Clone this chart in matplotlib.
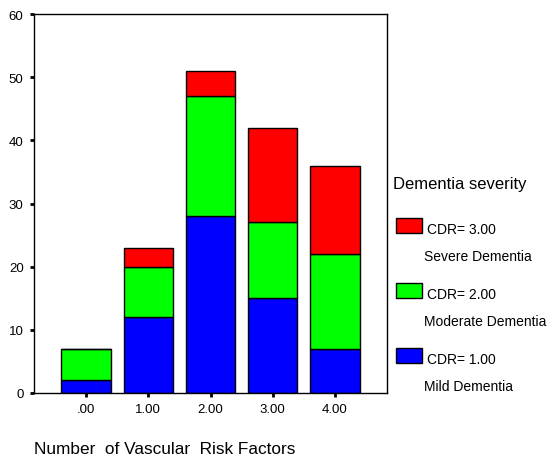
import numpy as np
import matplotlib.pyplot as plt
from matplotlib.patches import Rectangle

plt.rcParams['font.family'] = ['Liberation Sans', 'DejaVu Sans']

categories = ['.00', '1.00', '2.00', '3.00', '4.00']
mild = [2, 12, 28, 15, 7]
moderate = [5, 8, 19, 12, 15]
severe = [0, 3, 4, 15, 14]

legend_title = 'Dementia severity'
legend_codes = ['CDR= 3.00', 'CDR= 2.00', 'CDR= 1.00']
legend_names = ['Severe Dementia', 'Moderate Dementia', 'Mild Dementia']
legend_colors = ['#ff0000', '#00ff00', '#0000ff']

W, H = 547, 456
fig = plt.figure(figsize=(W / 100, H / 100), dpi=100)
ax = fig.add_axes([34 / W, (H - 394) / H, (387 - 34) / W, (394 - 15) / H])

x = np.arange(len(categories))
bottom = np.zeros(len(x))
for vals, color in [(mild, '#0000ff'), (moderate, '#00ff00'), (severe, '#ff0000')]:
    ax.bar(x, vals, 0.79, bottom=bottom, color=color, edgecolor='black', linewidth=1)
    bottom += np.array(vals)

ax.set_xlim(-0.835, 4.835)
ax.set_ylim(0, 60)
ax.set_yticks(range(0, 61, 10))
ax.set_xticks(x, categories)
ax.tick_params(direction='out', length=3, width=2, labelsize=9.5, pad=4.5)
for s in ax.spines.values():
    s.set_linewidth(1)

fig.text(34 / W, 1 - 454 / H, 'Number  of Vascular  Risk Factors', fontsize=12.4, va='baseline')

# legend drawn by hand (SPSS style, two-line entries)
fig.text(393 / W, 1 - 185 / H, legend_title, fontsize=12, va='center')
for i, (code, name, col) in enumerate(zip(legend_codes, legend_names, legend_colors)):
    y0 = 219 + 65 * i
    fig.add_artist(Rectangle((396 / W, 1 - (y0 + 15) / H), 26 / W, 15 / H,
                             transform=fig.transFigure, facecolor=col,
                             edgecolor='black', linewidth=1))
    fig.text(427 / W, 1 - (y0 + 11) / H, code, fontsize=10, va='center')
    fig.text(424 / W, 1 - (y0 + 38) / H, name, fontsize=10, va='center')

fig.savefig('out.png', dpi=100)
